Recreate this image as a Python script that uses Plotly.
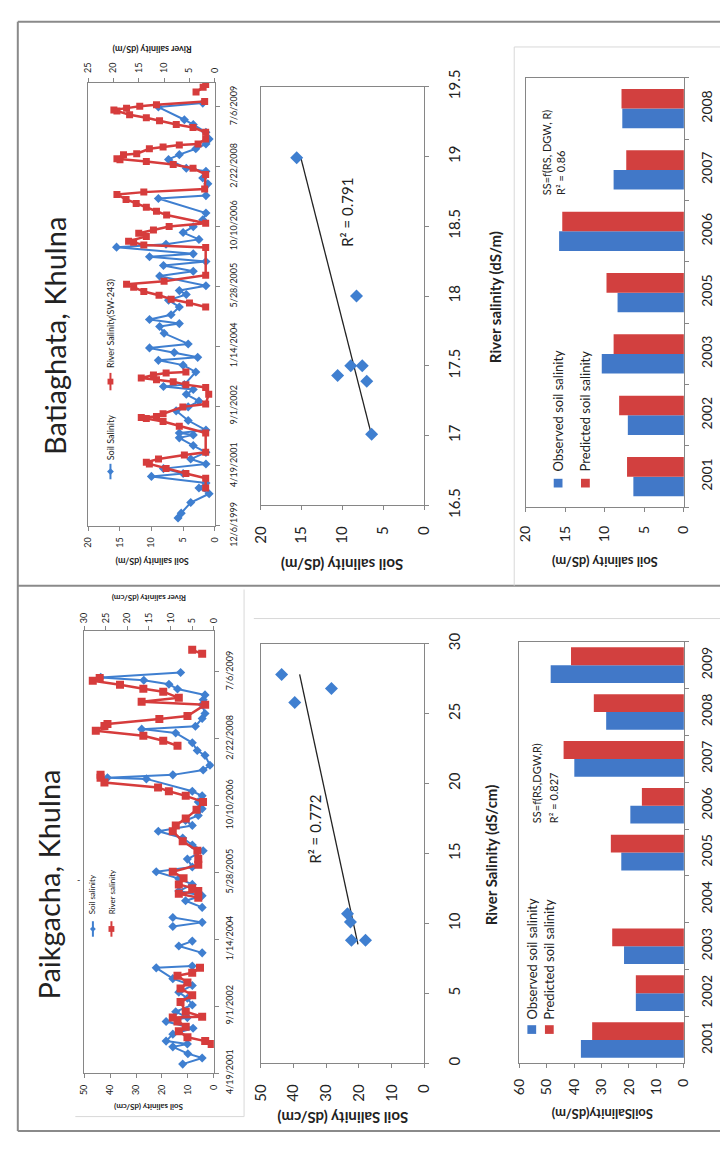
import plotly.graph_objects as go
from datetime import datetime

W, H = 728, 1155
FONT = "Lato"
BLUE = "#3f7fd0"
RED = "#d63c3c"
BAR_BLUE = "#4178c8"
BAR_RED = "#d2403f"
AXC = "#868686"
TXT = "#222222"

# ---------------- DATA ----------------
# Batiaghata, time series
bt_soil_dates = ["2000-02-09","2000-03-20","2000-06-17","2000-08-29","2000-10-16","2000-11-26","2001-01-21","2001-02-14",
                 "2001-03-27","2001-05-05","2001-06-15","2001-08-10","2001-10-06","2001-12-09","2002-01-03","2002-01-19",
                 "2002-02-12","2002-05-03","2002-07-23","2002-08-25","2002-10-12","2002-12-08","2003-01-17","2003-02-11",
                 "2003-02-27","2003-06-13","2003-08-09","2003-09-18","2003-10-13","2003-11-22","2003-12-31","2004-02-02",
                 "2004-05-01","2004-06-27","2004-07-21","2004-08-24","2004-10-03","2004-12-07","2005-02-02","2005-03-21",
                 "2005-04-23","2005-06-02","2005-08-22","2005-10-01","2005-11-19","2005-12-22","2006-01-31","2006-02-24",
                 "2006-04-21","2006-05-15","2006-06-25","2006-08-21","2006-10-09","2006-12-05","2007-01-31","2007-06-02",
                 "2007-06-26","2007-10-02","2007-11-20","2008-01-16","2008-02-09","2008-04-23","2008-06-02","2008-07-21",
                 "2008-08-31","2008-10-10","2008-12-06","2009-02-09","2009-03-21","2009-07-05","2009-08-07"]
bt_soil = [5.8,5.3,3.8,0.9,2.5,1.4,10.0,5.0,
           8.1,1.4,3.8,1.4,3.4,5.6,3.4,5.6,
           1.4,4.2,6.1,4.2,2.5,4.5,3.4,8.1,
           4.8,3.0,5.0,8.9,2.7,6.4,10.3,4.2,
           8.0,8.7,5.6,10.3,6.9,5.6,7.3,4.5,
           5.6,1.4,8.7,3.4,8.1,1.4,10.3,3.4,
           15.5,7.7,2.5,5.0,3.4,1.9,1.4,8.9,
           1.4,1.1,1.9,1.4,4.5,7.3,5.6,3.0,
           1.4,0.9,1.4,3.4,4.8,8.9,1.9]
bt_river_dates = ["2000-10-16","2001-01-05","2001-02-14","2001-03-27","2001-05-05","2001-05-20","2001-06-15","2001-07-18",
                  "2001-08-10","2002-01-19","2002-03-16","2002-04-25","2002-05-20","2002-05-28","2002-06-05","2002-06-29",
                  "2002-08-25","2002-09-18","2002-12-08","2003-02-03","2003-02-27","2003-03-23","2003-04-08","2003-04-24",
                  "2003-05-18","2003-06-04","2003-06-13",None,
                  "2004-12-07","2005-01-10","2005-02-10","2005-03-15","2005-04-15","2005-05-20","2005-06-15","2005-07-10",
                  "2005-08-30","2006-04-18","2006-05-10","2006-05-31","2006-06-10","2006-07-20","2006-08-15","2006-09-12",
                  "2006-10-10","2006-11-07","2007-01-14","2007-02-15","2007-03-20","2007-04-20","2007-05-25","2007-07-05",
                  "2007-07-25","2007-08-20","2007-12-20","2008-02-09","2008-03-12","2008-04-05","2008-04-21","2008-04-29",
                  "2008-06-02","2008-06-10","2008-07-21","2008-08-06","2008-08-22","2008-08-31","2008-10-10","2008-12-06",
                  "2009-01-15","2009-02-09","2009-03-13","2009-04-06","2009-05-01","2009-06-02","2009-06-10","2009-06-26",
                  "2009-07-12","2009-07-25","2009-08-20",None,
                  "2009-11-07","2009-12-17","2010-01-10"]
bt_river = [1.8,1.8,5.7,9.6,12.9,13.5,11.1,6.0,
            1.8,1.8,7.0,10.2,13.5,14.5,11.5,10.2,
            6.3,1.8,1.2,1.8,5.7,8.2,11.5,14.5,
            12.1,9.6,5.7,None,
            1.8,5.0,8.6,11.0,14.0,16.0,17.4,10.0,
            1.8,1.8,14.0,16.0,17.0,13.5,15.0,12.1,
            9.0,1.8,9.5,11.5,13.5,15.5,17.5,19.3,
            14.0,2.0,1.8,4.3,8.2,13.5,18.7,19.3,
            18.0,15.4,12.9,10.2,7.0,3.3,1.8,1.8,
            4.3,7.6,10.9,13.5,16.8,19.3,19.9,17.4,
            14.8,11.5,2.0,None,
            3.7,2.3,1.8]
bt_date_ticks = ["12/6/1999","4/19/2001","9/1/2002","1/14/2004","5/28/2005","10/10/2006","2/22/2008","7/6/2009"]
bt_date_range = ["1999-12-06", "2010-01-24"]

# Paikgacha, time series
pk_soil_dates = ["2001-06-25","2001-08-10","2001-09-11","2001-11-01","2001-11-23","2001-12-14","2002-02-04","2002-03-20",
                 "2002-05-10","2002-06-08","2002-07-22","2002-09-10","2002-10-31","2002-12-14","2003-02-03","2003-03-26",
                 "2003-06-15","2003-06-29",None,"2003-10-05","2003-11-25","2004-01-01",None,"2004-04-19","2004-05-20",
                 "2004-06-25",None,"2004-09-09","2004-10-29","2004-12-05","2005-01-09","2005-02-28","2005-04-12",
                 "2005-06-03","2005-07-08","2005-09-05","2005-11-06","2005-12-20","2006-02-10","2006-04-01","2006-05-15",
                 "2006-06-21","2006-07-28","2006-09-17","2006-11-07","2006-12-22","2007-01-25","2007-04-28","2007-05-06",
                 "2007-05-28","2007-07-03","2007-08-08","2007-10-21","2007-11-26","2008-01-23","2008-04-05","2008-05-04",
                 "2008-05-26","2008-07-23","2008-08-29","2008-11-03","2008-12-10","2009-01-15","2009-02-28","2009-04-05",
                 "2009-05-04","2009-05-26","2009-07-02"]
pk_soil = [12.0,4.5,10.0,15.8,10.2,18.4,15.8,8.0,
           18.4,10.2,14.7,8.3,10.2,13.5,8.3,15.8,
           22.2,8.3,None,4.5,13.5,8.3,None,15.8,4.5,
           15.8,None,4.5,10.9,4.5,13.5,8.3,13.5,
           22.2,8.3,10.2,4.1,8.3,12.0,21.4,8.3,
           10.9,6.0,4.5,6.0,4.5,8.3,26.0,41.0,
           15.8,4.1,1.5,3.4,6.4,8.3,14.7,27.8,
           7.1,4.5,3.4,4.5,4.1,3.4,14.0,17.3,
           27.0,43.6,12.8]
pk_river_dates = ["2001-11-23","2001-12-14","2002-01-12","2002-02-25","2002-04-01","2002-05-10","2002-06-08","2002-06-15",
                  "2002-07-22","2002-10-02","2002-11-22","2003-01-12","2003-02-25","2003-04-17","2003-05-09","2003-06-15",None,
                  "2004-11-21","2004-12-20","2005-01-09","2005-01-31","2005-02-28","2005-04-15","2005-06-03","2005-07-24",
                  "2005-09-05","2005-11-06","2006-01-17","2006-04-01","2006-05-15","2006-07-05","2006-09-10","2006-11-07",
                  "2006-12-22","2007-01-25","2007-02-23","2007-03-31","2007-05-06","2007-05-28",None,
                  "2007-12-31","2008-02-07","2008-03-16","2008-04-21","2008-05-28","2008-06-12","2008-07-19","2008-08-10",
                  "2008-11-03","2008-11-25","2008-12-24","2009-02-08","2009-03-02","2009-04-01","2009-04-30","2009-05-22",None,
                  "2009-11-18","2009-12-18"]
pk_river = [0.5,2.0,6.1,8.1,6.5,8.4,9.5,2.7,
            6.5,7.7,5.0,7.7,6.1,8.4,5.0,3.2,None,
            3.6,8.1,3.6,5.0,8.1,7.0,9.5,3.6,
            3.6,3.8,7.2,9.5,8.8,6.5,4.0,2.5,
            6.5,10.4,12.9,25.3,26.2,26.2,None,
            8.4,11.7,16.3,27.3,25.3,24.6,12.6,6.1,
            2.0,16.7,8.1,11.7,16.3,21.7,28.0,26.4,None,
            2.7,5.0]
pk_date_ticks = ["4/19/2001","9/1/2002","1/14/2004","5/28/2005","10/10/2006","2/22/2008","7/6/2009"]
pk_date_range = ["2001-04-19", "2010-05-07"]

# Scatter: river salinity vs soil salinity
bt_sc_river = [18.99, 18.0, 17.43, 17.5, 17.5, 17.39, 17.01]
bt_sc_soil = [15.6, 8.3, 10.6, 9.0, 7.6, 7.05, 6.45]
bt_trend_river = [17.0, 18.98]
bt_trend_soil = [6.45, 15.05]
pk_sc_river = [27.8, 25.8, 26.8, 10.7, 10.1, 8.8, 8.8]
pk_sc_soil = [43.6, 39.6, 28.4, 23.5, 22.6, 22.3, 18.0]
pk_trend_river = [8.5, 27.8]
pk_trend_soil = [20.3, 38.1]

# Bars: observed vs predicted soil salinity
bt_years = ["2001", "2002", "2003", "2005", "2006", "2007", "2008"]
bt_observed = [6.4, 7.1, 10.4, 8.4, 15.8, 8.9, 7.8]
bt_predicted = [7.2, 8.2, 8.9, 9.8, 15.4, 7.3, 7.9]
pk_years = ["2001", "2002", "2003", "2004", "2005", "2006", "2007", "2008", "2009"]
pk_observed = [37.5, 17.5, 21.8, None, 22.8, 19.5, 39.9, 28.3, 48.5]
pk_predicted = [33.4, 17.5, 26.1, None, 26.6, 15.3, 43.8, 32.8, 41.1]


# ---------------- HELPERS ----------------
def px(x):
    return x / W


def py(y):
    return 1 - y / H


def to_iso(s):
    return datetime.strptime(s, "%m/%d/%Y").strftime("%Y-%m-%d")


def axis(**kw):
    base = dict(showgrid=False, zeroline=False, showline=True, linecolor=AXC, linewidth=1,
                ticks="outside", ticklen=4, tickcolor=AXC, tickwidth=1,
                tickfont=dict(family=FONT, size=10, color=TXT))
    base.update(kw)
    return base


fig = go.Figure()

# ---- Batiaghata time series ----
fig.add_trace(go.Scatter(x=bt_soil, y=bt_soil_dates, xaxis="x", yaxis="y", mode="lines+markers",
                         line=dict(color=BLUE, width=2), marker=dict(symbol="diamond", size=7, color=BLUE)))
fig.add_trace(go.Scatter(x=bt_river, y=bt_river_dates, xaxis="x2", yaxis="y", mode="lines+markers",
                         line=dict(color=RED, width=2.5), marker=dict(symbol="square", size=7, color=RED)))
# ---- Paikgacha time series ----
fig.add_trace(go.Scatter(x=pk_soil, y=pk_soil_dates, xaxis="x5", yaxis="y5", mode="lines+markers",
                         line=dict(color=BLUE, width=2), marker=dict(symbol="diamond", size=7, color=BLUE)))
fig.add_trace(go.Scatter(x=pk_river, y=pk_river_dates, xaxis="x6", yaxis="y5", mode="lines+markers",
                         line=dict(color=RED, width=2.5), marker=dict(symbol="square", size=8, color=RED)))

# ---- Scatters ----
fig.add_trace(go.Scatter(x=bt_trend_soil, y=bt_trend_river, xaxis="x3", yaxis="y3", mode="lines",
                         line=dict(color="#222222", width=1.3)))
fig.add_trace(go.Scatter(x=bt_sc_soil, y=bt_sc_river, xaxis="x3", yaxis="y3", mode="markers",
                         marker=dict(symbol="diamond", size=10, color=BLUE)))
fig.add_trace(go.Scatter(x=pk_trend_soil, y=pk_trend_river, xaxis="x7", yaxis="y7", mode="lines",
                         line=dict(color="#222222", width=1.3)))
fig.add_trace(go.Scatter(x=pk_sc_soil, y=pk_sc_river, xaxis="x7", yaxis="y7", mode="markers",
                         marker=dict(symbol="diamond", size=10, color=BLUE)))

# ---- Bars ----
wa, wb = 0.32, 0.38
fig.add_trace(go.Bar(x=bt_observed, y=bt_years, orientation="h", xaxis="x4", yaxis="y4",
                     marker=dict(color=BAR_BLUE, line=dict(width=0)), width=wa, offset=-wa))
fig.add_trace(go.Bar(x=bt_predicted, y=bt_years, orientation="h", xaxis="x4", yaxis="y4",
                     marker=dict(color=BAR_RED, line=dict(width=0)), width=wa, offset=0))
fig.add_trace(go.Bar(x=pk_observed, y=pk_years, orientation="h", xaxis="x8", yaxis="y8",
                     marker=dict(color=BAR_BLUE, line=dict(width=0)), width=wb, offset=-wb))
fig.add_trace(go.Bar(x=pk_predicted, y=pk_years, orientation="h", xaxis="x8", yaxis="y8",
                     marker=dict(color=BAR_RED, line=dict(width=0)), width=wb, offset=0))

small = dict(family=FONT, size=9, color=TXT)
mid = dict(family=FONT, size=15, color=TXT)
barf = dict(family=FONT, size=14, color=TXT)

layout = dict(
    width=W, height=H, margin=dict(l=0, r=0, t=0, b=0),
    paper_bgcolor="white", plot_bgcolor="white", showlegend=False, barmode="overlay",
    # Batiaghata TS
    xaxis=axis(domain=[px(80), px(210)], range=[20, 0], anchor="y", side="bottom",
               tickvals=[0, 5, 10, 15, 20], tickangle=-90, tickfont=small, mirror=True, ticklabelstandoff=3),
    xaxis2=axis(domain=[px(80), px(210)], range=[25, 0], anchor="y", side="top", overlaying="x",
                tickvals=[0, 5, 10, 15, 20, 25], tickangle=-90, tickfont=small, ticklabelstandoff=3),
    yaxis=axis(domain=[py(526), py(68)], anchor="x", side="right", type="date", range=bt_date_range,
               tickvals=[to_iso(s) for s in bt_date_ticks], ticktext=bt_date_ticks, tickangle=-90,
               tickfont=small, mirror=True, ticklabelstandoff=6),
    # Batiaghata scatter
    xaxis3=axis(domain=[px(257), px(425)], range=[20, 0], anchor="y3", side="bottom",
                tickvals=[0, 5, 10, 15, 20], tickangle=-90, tickfont=mid, mirror=True, ticklabelstandoff=10),
    yaxis3=axis(domain=[py(505), py(72)], range=[16.5, 19.5], anchor="x3", side="right",
                tickvals=[16.5, 17, 17.5, 18, 18.5, 19, 19.5], ticktext=["16.5", "17", "17.5", "18", "18.5", "19", "19.5"],
                tickangle=-90, tickfont=mid, mirror=True, ticklabelstandoff=13),
    # Batiaghata bars
    xaxis4=axis(domain=[px(529), px(691)], range=[20, 0], anchor="y4", side="bottom",
                tickvals=[0, 5, 10, 15, 20], tickangle=-90, tickfont=barf, mirror=True, ticklabelstandoff=8),
    yaxis4=axis(domain=[py(507), py(63)], anchor="x4", side="right", type="category", categoryorder="array",
                categoryarray=bt_years, tickson="boundaries", tickangle=-90, tickfont=barf, mirror=True,
                ticklabelstandoff=10),
    # Paikgacha TS
    xaxis5=axis(domain=[px(76), px(209)], range=[50, 0], anchor="y5", side="bottom",
                tickvals=[0, 10, 20, 30, 40, 50], tickangle=-90, tickfont=small, mirror=True, ticklabelstandoff=3),
    xaxis6=axis(domain=[px(76), px(209)], range=[30, 0], anchor="y5", side="top", overlaying="x5",
                tickvals=[0, 5, 10, 15, 20, 25, 30], tickangle=-90, tickfont=small, ticklabelstandoff=1),
    yaxis5=axis(domain=[py(1092), py(635)], anchor="x5", side="right", type="date", range=pk_date_range,
                tickvals=[to_iso(s) for s in pk_date_ticks], ticktext=pk_date_ticks, tickangle=-90,
                tickfont=small, mirror=True, ticklabelstandoff=3),
    # Paikgacha scatter
    xaxis7=axis(domain=[px(257), px(425)], range=[50, 0], anchor="y7", side="bottom",
                tickvals=[0, 10, 20, 30, 40, 50], tickangle=-90, tickfont=mid, mirror=True, ticklabelstandoff=10),
    yaxis7=axis(domain=[py(1082), py(648)], range=[0, 30], anchor="x7", side="right",
                tickvals=[0, 5, 10, 15, 20, 25, 30], tickangle=-90, tickfont=mid, mirror=True, ticklabelstandoff=13),
    # Paikgacha bars
    xaxis8=axis(domain=[px(522), px(691)], range=[60, 0], anchor="y8", side="bottom",
                tickvals=[0, 10, 20, 30, 40, 50, 60], tickangle=-90, tickfont=barf, mirror=True, ticklabelstandoff=5),
    yaxis8=axis(domain=[py(1082), py(646)], anchor="x8", side="right", type="category", categoryorder="array",
                categoryarray=pk_years, tickson="boundaries", tickangle=-90, tickfont=barf, mirror=True,
                ticklabelstandoff=10),
)
fig.update_layout(**layout)

annotations = []


def ann(text, x, y, size, angle, bold=False, xanchor="center", yanchor="middle", color=TXT):
    annotations.append(dict(text=("<b>%s</b>" % text) if bold else text, x=px(x), y=py(y),
                            xref="paper", yref="paper", showarrow=False, textangle=angle,
                            xanchor=xanchor, yanchor=yanchor,
                            font=dict(family=FONT, size=size, color=color)))


# titles
ann("Batiaghata, Khulna", 45, 330, 29, -90)
ann("Paikgacha, Khulna", 39, 897, 29, -90)
# TS axis titles
ann("River salinity (dS/m)", 145, 33, 9, 180, bold=True)
ann("Soil salinity (dS/m)", 145, 563, 9, 180, bold=True)
ann("River salinity (dS/cm)", 142, 600, 8, 180, bold=True)
ann("Soil salinity (dS/cm)", 142, 1127, 8, 180, bold=True)
# TS legends
ann("Soil Salinity", 103, 460, 9, -90, yanchor="bottom")
ann("River Salinity(SW-243)", 103, 365, 9, -90, yanchor="bottom")
ann("Soil salinity", 85, 930, 8, -90, yanchor="bottom")
ann("River salinity", 104, 930, 8, -90, yanchor="bottom")
ann("-", 70, 892, 9, 0)
# scatter texts
ann("R\u00b2 = 0.791", 346, 202, 15, -90)
ann("River salinity (dS/m)", 498, 290, 15, -90, bold=True)
ann("Soil salinity (dS/m)", 341, 566, 15, 180, bold=True)
ann("R\u00b2 = 0.772", 313, 840, 15, -90)
ann("River Salinity (dS/cm)", 493, 866, 15, -90, bold=True)
ann("Soil Salinity (dS/cm)", 341, 1139, 15, 180, bold=True)
# bar texts
ann("Observed soil salinity", 562, 472, 13, -90, yanchor="bottom")
ann("Predicted soil salinity", 590, 472, 13, -90, yanchor="bottom")
ann("SS=f(RS, DGW, R)", 550, 186, 11, -90, yanchor="bottom")
ann("R\u00b2 = 0.86", 565, 186, 11, -90, yanchor="bottom")
ann("Soil salinity (dS/m)", 610, 563, 13, 180, bold=True)
ann("Observed soil salinity", 535, 1039, 13, -90, yanchor="bottom")
ann("Predicted soil salinity", 553, 1039, 13, -90, yanchor="bottom")
ann("SS=f(RS,DGW,R)", 540, 836, 11, -90, yanchor="bottom")
ann("R\u00b2 = 0.827", 558, 836, 11, -90, yanchor="bottom")
ann("SoilSalinity(dS/m)", 607, 1135, 13, 180, bold=True)

shapes = []


def line(x0, y0, x1, y1, color="#8a8a8a", width=2):
    shapes.append(dict(type="line", xref="paper", yref="paper", x0=px(x0), y0=py(y0), x1=px(x1), y1=py(y1),
                       line=dict(color=color, width=width)))


def rect(cx, cy, s, color):
    shapes.append(dict(type="rect", xref="paper", yref="paper", x0=px(cx - s / 2), x1=px(cx + s / 2),
                       y0=py(cy + s / 2), y1=py(cy - s / 2), fillcolor=color, line=dict(width=0)))


def diamond(cx, cy, s, color):
    pts = [(cx, cy - s / 2), (cx + s / 2, cy), (cx, cy + s / 2), (cx - s / 2, cy)]
    path = "M " + " L ".join("%f,%f" % (px(a), py(b)) for a, b in pts) + " Z"
    shapes.append(dict(type="path", xref="paper", yref="paper", path=path, fillcolor=color, line=dict(width=0)))


# frame
line(8, 5, 728, 5)
line(8, 5, 8, 1152)
line(8, 1152, 728, 1152)
line(8, 588, 728, 588)
# faint chart-area borders
faint = "#d8d8d8"
line(517, 31, 728, 31, faint, 1)
line(517, 31, 517, 588, faint, 1)
line(250, 622, 728, 622, faint, 1)
line(240, 592, 240, 1137, faint, 1)
line(67, 1137, 240, 1137, faint, 1)
# TS legend symbols
line(103, 462, 103, 478, BLUE, 2)
diamond(103, 470, 7, BLUE)
line(103, 368, 103, 386, RED, 2)
rect(103, 377, 6, RED)
line(85, 935, 85, 951, BLUE, 2)
diamond(85, 943, 6, BLUE)
line(104, 935, 104, 951, RED, 2)
rect(104, 943, 6, RED)
# bar legend symbols
rect(562, 482, 9, BAR_BLUE)
rect(590, 482, 9, BAR_RED)
rect(535, 1047, 9, BAR_BLUE)
rect(553, 1047, 9, BAR_RED)

fig.update_layout(annotations=annotations, shapes=shapes)
fig.write_html("out.html", config={"displayModeBar": False},
               post_script="document.body.style.margin='0';document.body.style.overflow='hidden';")
